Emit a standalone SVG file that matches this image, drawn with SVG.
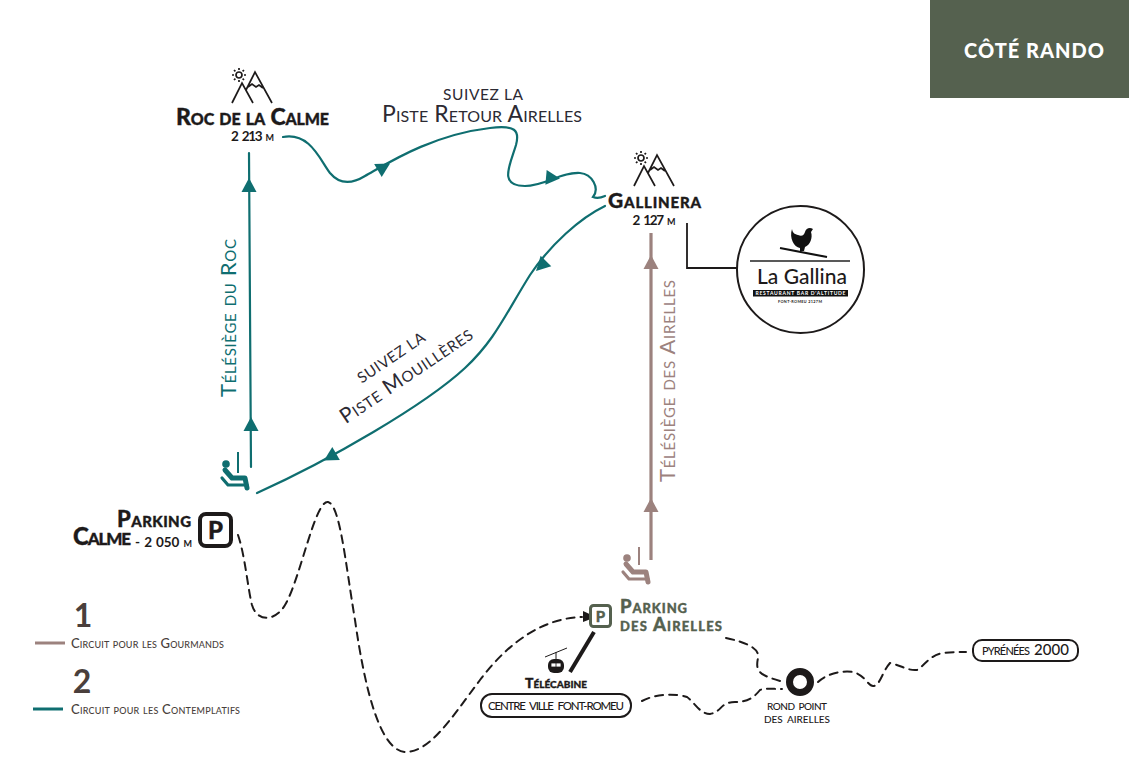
<svg xmlns="http://www.w3.org/2000/svg" xmlns:xlink="http://www.w3.org/1999/xlink" width="1129" height="764" viewBox="0 0 1129 764">
<style>
text{font-family:"Lato","Liberation Sans",sans-serif;fill:#1d1a1a}
.sc{font-variant:small-caps}
.b{font-weight:700}
.h{font-weight:900;stroke:#1d1a1a;stroke-width:.35}
.g{fill:#55614f;stroke:#55614f}
.teal{fill:none;stroke:#0f6e70;stroke-width:2.2;stroke-linecap:round}
.brown{fill:none;stroke:#9c827e;stroke-width:3.2}
.dash{fill:none;stroke:#1d1a1a;stroke-width:2;stroke-dasharray:8 6;stroke-linecap:round}
.pill{fill:#fff;stroke:#1d1a1a;stroke-width:2}
.mt{fill:none;stroke:#1d1a1a;stroke-width:1.7}
</style>
<defs>
<g id="mountain" class="mt">
<circle cx="0" cy="0" r="3"/>
<path d="M-7,0H-5M5,0H7M0,-7V-5M0,5V7M-5,-5L-3.6,-3.6M5,-5L3.6,-3.6M-5,5L-3.6,3.6M5,5L3.6,3.6"/>
<path d="M-7,28L3,8L14,28M7,15L16,-3L33,28M9,12L13,9L17,12L20,10L24,13"/>
</g>
<g id="seat">
<circle cx="3" cy="-27" r="3.800"/>
<path d="M2,-21L9,-13H22L24,-3" fill="none" stroke-width="5" stroke="currentColor" stroke-linecap="round" stroke-linejoin="round"/>
<path d="M-1,-13L5,-6H24" fill="none" stroke-width="3.200" stroke="currentColor" stroke-linecap="round" stroke-linejoin="round"/>
</g>
<path id="up" d="M0,-7L7.5,7H-7.5Z"/>
</defs>

<g id="banner"><rect x="930" y="0" width="199" height="98" fill="#55614f"/>
<text x="1034" y="58" text-anchor="middle" font-size="20" font-weight="900" style="fill:#fff" textLength="140">CÔTÉ RANDO</text></g>

<g id="connectors">
<path class="teal" d="M249,153L251,467"/>
<path class="teal" d="M283,137C310,132 320,160 330,173C340,185 352,184 365,176C385,165 430,135 490,128C515,125 520,130 516,145C510,165 498,186 525,186C545,186 560,172 580,173C592,174 600,188 593,197Q598,199 605,196"/>
<path class="teal" d="M605,206C580,218 550,245 530,275C505,315 495,340 465,368C425,405 330,460 257,493"/>
<g fill="#0f6e70">
<use xlink:href="#up" href="#up" x="249" y="185"/>
<use xlink:href="#up" href="#up" x="251" y="424"/>
<use xlink:href="#up" href="#up" transform="translate(384,167) rotate(60)"/>
<use xlink:href="#up" href="#up" transform="translate(553,178) rotate(95)"/>
<use xlink:href="#up" href="#up" transform="translate(541,266) rotate(225)"/>
<use xlink:href="#up" href="#up" transform="translate(330,457) rotate(240)"/>
</g>
<path class="brown" d="M651,233V560"/>
<g fill="#9c827e">
<use xlink:href="#up" href="#up" x="651" y="262"/>
<use xlink:href="#up" href="#up" x="651" y="505"/>
</g>
<path d="M687,223V268H737" fill="none" stroke="#1d1a1a" stroke-width="1.8"/>
<path d="M570,672L594,632" fill="none" stroke="#1d1a1a" stroke-width="4"/>
<path class="dash" d="M238,535C245,555 248,590 252,605C257,622 275,622 285,605C300,580 315,500 328,502C340,505 345,560 355,620C365,690 380,750 405,752C430,752 450,720 480,680C510,640 545,618 582,617"/>
<path d="M583,611L596,617L583,622Z" fill="#1d1a1a"/>
<path class="dash" d="M726,638C745,642 760,648 758,658C755,672 760,675 780,681"/>
<path class="dash" d="M642,701C655,694 675,693 687,697C695,703 700,714 710,714C722,712 720,702 735,702C745,702 752,700 760,690C765,688 772,689 782,689"/>
<path class="dash" d="M818,682C825,675 840,670 853,672C865,675 868,686 873,686C880,686 882,672 890,663C900,665 908,671 917,670C925,665 930,655 943,653C950,652 958,652 966,652"/>
</g>

<g id="roc-de-la-calme">
<use xlink:href="#mountain" href="#mountain" x="239" y="75"/>
<text x="176" y="125" font-size="23" class="sc h" textLength="153">Roc de la Calme</text>
<text x="252.500" y="141" font-size="13.500" class="sc b" text-anchor="middle" word-spacing="2" textLength="43">2 213 m</text>
</g>
<g id="gallinera">
<use xlink:href="#mountain" href="#mountain" x="641" y="158"/>
<text x="608" y="208" font-size="21" class="sc h" textLength="93">Gallinera</text>
<text x="654" y="225" font-size="13.500" class="sc b" text-anchor="middle" word-spacing="2" textLength="43">2 127 m</text>
</g>
<g id="la-gallina">
<circle cx="800.500" cy="269.500" r="63.500" fill="#fff" stroke="#1d1a1a" stroke-width="2"/>
<path d="M792,229C793,234 795,234 798,235C802,237 804,235 805,232C806,228 810,227 813,229L811,232C813,238 810,245 805,247L804,251L800,251L800,248C794,247 789,238 792,229Z" fill="#111"/>
<path d="M780,248L827,257" stroke="#111" stroke-width="2.200" fill="none"/>
<path d="M750,261H850" stroke="#222" stroke-width="1.500" fill="none"/>
<text x="757" y="284" font-size="21" textLength="90" style="font-weight:500">La Gallina</text>
<rect x="753" y="290" width="95" height="6.500" fill="#111"/>
<text x="800.500" y="295.300" font-size="5" text-anchor="middle" class="b" textLength="90" style="fill:#fff">RESTAURANT BAR D'ALTITUDE</text>
<text x="800" y="302.500" font-size="3.800" text-anchor="middle" class="b" textLength="44">FONT-ROMEU 2127M</text>
</g>

<g id="labels">
<text x="483" y="100" font-size="15.500" text-anchor="middle" textLength="80" style="fill:#2c2a33">SUIVEZ LA</text>
<text x="482" y="122" font-size="23" class="sc" text-anchor="middle" textLength="200" style="fill:#2c2a33">Piste Retour Airelles</text>
<text transform="translate(236,397) rotate(-90)" font-size="22" class="sc" textLength="158" style="fill:#0f6e70">Télésiège du Roc</text>
<text transform="translate(675,482) rotate(-90)" font-size="22" class="sc" textLength="202" style="fill:#9c827e">Télésiège des Airelles</text>
<text transform="translate(394,362) rotate(-34)" font-size="15" text-anchor="middle" textLength="78" style="fill:#2c2a33">SUIVEZ LA</text>
<text transform="translate(410,381) rotate(-34)" font-size="21" class="sc" text-anchor="middle" textLength="155" style="fill:#2c2a33">Piste Mouillères</text>
</g>

<g id="seat-teal" color="#0f6e70" fill="#0f6e70">
<use xlink:href="#seat" href="#seat" x="223" y="491"/>
<path d="M238,452V473" stroke="#0f6e70" stroke-width="2"/>
</g>
<g id="seat-brown" color="#9c827e" fill="#9c827e">
<use xlink:href="#seat" href="#seat" x="624" y="585"/>
<path d="M639,547V565" stroke="#9c827e" stroke-width="2"/>
</g>

<g id="parking-calme">
<text x="191" y="527" font-size="22" class="sc h" text-anchor="end" textLength="74">Parking</text>
<text x="73" y="545" font-size="24" class="sc h" textLength="58">Calme</text>
<text x="192" y="547" font-size="13.500" class="sc b" text-anchor="end" word-spacing="1" textLength="57">- 2 050 m</text>
<rect x="200" y="514" width="31" height="32" rx="6" fill="#fff" stroke="#1d1a1a" stroke-width="4"/>
<text x="215.500" y="539" font-size="24" class="h" text-anchor="middle">P</text>
</g>

<g id="parking-airelles">
<rect x="590.500" y="605.500" width="20" height="21" rx="3" fill="#fff" stroke="#55614f" stroke-width="3"/>
<text x="600.500" y="622" font-size="15" class="h g" text-anchor="middle">P</text>
<text x="620" y="613" font-size="18.500" class="sc h g" textLength="67">Parking</text>
<text x="620" y="631" font-size="18.500" class="sc h g" textLength="102">des Airelles</text>
</g>

<g id="telecabine">
<path d="M545,657L567,648M556,652V659" stroke="#1d1a1a" stroke-width="1" fill="none"/>
<rect x="548" y="659" width="16" height="14" rx="6" fill="#1d1a1a"/>
<path d="M551,663H561V667H551ZM556,663V667" fill="#fff" stroke="#1d1a1a" stroke-width=".8"/>
<text x="556" y="688" font-size="14" class="sc h" text-anchor="middle" textLength="62">Télécabine</text>
</g>
<g id="centre-ville">
<rect class="pill" x="481" y="694" width="150" height="23" rx="11"/>
<text x="556" y="710" font-size="11.500" text-anchor="middle" word-spacing="3" textLength="136" style="font-weight:500">CENTRE VILLE FONT-ROMEU</text>
</g>
<g id="rond-point">
<circle cx="800" cy="682" r="10.500" fill="#fff" stroke="#1d1a1a" stroke-width="7"/>
<text x="797" y="710" font-size="10" text-anchor="middle" word-spacing="2" textLength="60" style="font-weight:500">ROND POINT</text>
<text x="797" y="723" font-size="10" text-anchor="middle" word-spacing="2" textLength="66" style="font-weight:500">DES AIRELLES</text>
</g>
<g id="pyrenees">
<rect class="pill" x="973" y="640" width="105" height="21" rx="9"/>
<text x="982" y="655" font-size="11" textLength="48" style="font-weight:500">PYRÉNÉES</text>
<text x="1034" y="655" font-size="15" textLength="35" style="font-weight:500">2000</text>
</g>

<g id="legend">
<text x="83" y="627" font-size="32" text-anchor="middle" class="b" style="fill:#4a3f3c">1</text>
<path d="M35,643H65" stroke="#9c827e" stroke-width="3"/>
<text x="71" y="648" font-size="13" class="sc b" textLength="153" style="fill:#4a3f3c;font-weight:500">Circuit pour les Gourmands</text>
<text x="82" y="693" font-size="32" text-anchor="middle" class="b" style="fill:#4a3f3c">2</text>
<path d="M33,709H63" stroke="#0f6e70" stroke-width="3"/>
<text x="71" y="714" font-size="13" class="sc b" textLength="169" style="fill:#4a3f3c;font-weight:500">Circuit pour les Contemplatifs</text>
</g>
</svg>
